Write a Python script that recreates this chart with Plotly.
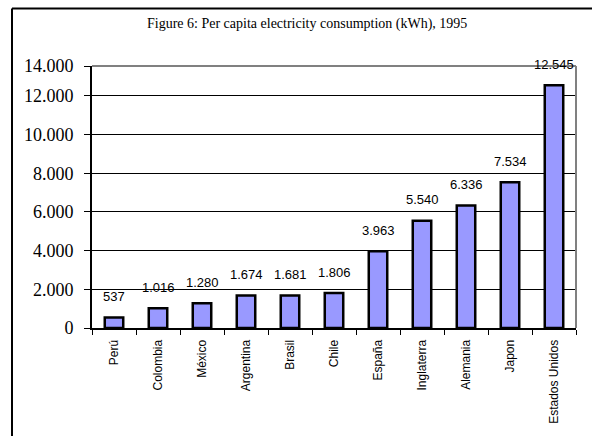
import plotly.graph_objects as go

countries = ["Perú", "Colombia", "México", "Argentina", "Brasil", "Chile",
             "España", "Inglaterra", "Alemania", "Japon", "Estados Unidos"]
consumption = [537, 1016, 1280, 1674, 1681, 1806, 3963, 5540, 6336, 7534, 12545]
y_tick_vals = [0, 2000, 4000, 6000, 8000, 10000, 12000, 13540]
y_tick_text = ["0", "2.000", "4.000", "6.000", "8.000", "10.000", "12.000", "14.000"]
title_text = "Figure 6: Per capita electricity consumption (kWh), 1995"

W, H = 592, 436
ml, mr, mt, mb = 92, 16, 66, 106
pw, ph = W - ml - mr, H - mt - mb

def fmt(v):
    return f"{v:,}".replace(",", ".")

fig = go.Figure(go.Bar(
    x=countries, y=consumption,
    marker=dict(color="#9999FF", line=dict(color="black", width=2.5)),
    width=0.42,
))

for c, v in zip(countries, consumption):
    fig.add_annotation(x=c, y=v, text=fmt(v), showarrow=False, yshift=21,
                       yanchor="middle", xanchor="center",
                       font=dict(family="Liberation Sans", size=13, color="black"))

fig.update_layout(
    width=W, height=H,
    margin=dict(l=ml, r=mr, t=mt, b=mb),
    paper_bgcolor="white", plot_bgcolor="white",
    showlegend=False,
    annotations=list(fig.layout.annotations) + [dict(
        text=title_text, xref="paper", yref="paper",
        x=(307 - ml) / pw, y=1 + (mt - 24) / ph, xanchor="center", yanchor="middle",
        showarrow=False, font=dict(family="Liberation Serif", size=14, color="black"))],
)

fig.update_xaxes(
    type="category", showgrid=False, showline=True, linecolor="black", linewidth=2,
    ticks="outside", tickson="boundaries", ticklen=5, tickcolor="black", tickwidth=1,
    tickangle=-90, tickfont=dict(family="Liberation Sans", size=12, color="black"),
    ticklabelstandoff=5,
)
fig.update_yaxes(
    range=[0, y_tick_vals[-1]], tickvals=y_tick_vals, ticktext=y_tick_text,
    showgrid=True, gridcolor="black", gridwidth=1,
    showline=True, linecolor="black", linewidth=2,
    ticks="outside", ticklen=6, tickcolor="black", tickwidth=1,
    tickfont=dict(family="Liberation Serif", size=18, color="black"),
    ticklabelstandoff=7,
    zeroline=False,
)

# plot-area frame (grey top and right)
fig.add_shape(type="line", xref="paper", yref="paper", x0=0, x1=1, y0=1, y1=1,
              line=dict(color="#808080", width=2), layer="above")
fig.add_shape(type="line", xref="paper", yref="paper", x0=1, x1=1, y0=0, y1=1,
              line=dict(color="#808080", width=2), layer="above")
# outer chart frame (left and top edges visible)
fig.add_shape(type="line", xref="paper", yref="paper",
              x0=(12 - ml) / pw, x1=(W + 5 - ml) / pw,
              y0=1 + (mt - 8) / ph, y1=1 + (mt - 8) / ph,
              line=dict(color="black", width=2), layer="above")
fig.add_shape(type="line", xref="paper", yref="paper",
              x0=(12 - ml) / pw, x1=(12 - ml) / pw,
              y0=-(mb + 5) / ph, y1=1 + (mt - 8) / ph,
              line=dict(color="black", width=2), layer="above")

fig.write_html("out.html")
